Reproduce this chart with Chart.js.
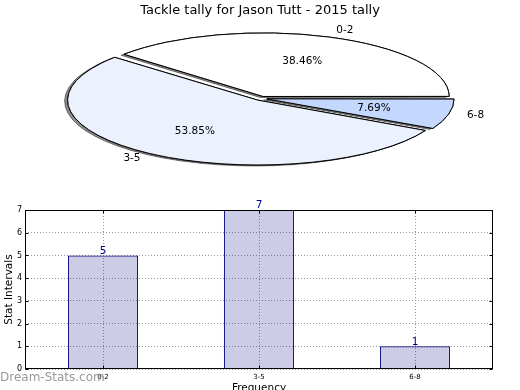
<!DOCTYPE html>
<html><head><meta charset="utf-8">
<script src="https://cdn.jsdelivr.net/npm/chart.js@4/dist/chart.umd.min.js"></script>
<style>
html,body{margin:0;padding:0;background:#fff;overflow:hidden;}
#wrap{position:relative;width:520px;height:390px;overflow:hidden;background:#fff;}
#pie{position:absolute;left:0;top:0;}
#bar{position:absolute;left:0;top:195px;}
#wm{position:absolute;left:0;top:371px;font:12px/12px "DejaVu Sans",sans-serif;color:#999;white-space:nowrap;}
</style></head><body>
<div id="wrap">
<canvas id="pie" width="520" height="200"></canvas>
<canvas id="bar" width="520" height="205"></canvas>
<div id="wm">Dream-Stats.com</div>
</div>
<script>
// ---- data ----
const chartTitle = 'Tackle tally for Jason Tutt - 2015 tally';
const categories = ['0-2', '3-5', '6-8'];
const tallies = [5, 7, 1];
const sliceColors = ['#ffffff', '#ebf1fd', '#c4d8fe'];
const yTickValues = [0, 1, 2, 3, 4, 5, 6, 7];
const xAxisTitle = 'Frequency';
const yAxisTitle = 'Stat Intervals';

// ---- layout constants ----
const FONT = '"DejaVu Sans", sans-serif';
const PIE_CX = 261, PIE_CY = 98.4, K = 0.3415;

// pie drawn in matplotlib order (counter-clockwise from east) => reverse for Chart.js clockwise
const pieLabels = categories.slice().reverse();
const pieValues = tallies.slice().reverse();
const pieColors = sliceColors.slice().reverse();

const ellipsePlugin = {
  id: 'ellipse',
  beforeDatasetsDraw(chart) {
    const ctx = chart.ctx;
    const meta = chart.getDatasetMeta(0);
    const el = meta.data[0];
    ctx.save();
    ctx.translate(PIE_CX, PIE_CY);
    ctx.scale(1, K);
    ctx.translate(-el.x, -el.y);
    const orig = CanvasRenderingContext2D.prototype.stroke;
    const dpr = chart.currentDevicePixelRatio || 1;
    ctx.stroke = function (...a) {
      this.save();
      this.setTransform(dpr, 0, 0, dpr, 0, 0);
      orig.apply(this, a);
      this.restore();
    };
    // shadow pass: drawn beneath all wedges
    ctx.save();
    ctx.shadowColor = 'rgba(0,0,0,0.45)';
    ctx.shadowOffsetX = -3;
    ctx.shadowOffsetY = 1;
    ctx.shadowBlur = 0;
    meta.data.forEach(a => a.draw(ctx));
    ctx.restore();
  },
  afterDatasetsDraw(chart) {
    const ctx = chart.ctx;
    delete ctx.stroke;
    ctx.restore();
    const meta = chart.getDatasetMeta(0);
    const data = chart.data.datasets[0].data;
    const total = data.reduce((s, v) => s + v, 0);
    ctx.save();
    ctx.fillStyle = '#000';
    ctx.font = '10.5px ' + FONT;
    ctx.textBaseline = 'middle';
    meta.data.forEach((a, i) => {
      const mid = (a.startAngle + a.endAngle) / 2;
      const off = (a.options.offset || 0) / 4;
      const r = a.outerRadius;
      const bx = Math.cos(mid) * off, by = Math.sin(mid) * off;
      const map = (f) => [PIE_CX + bx + f * r * Math.cos(mid), PIE_CY + (by + f * r * Math.sin(mid)) * K];
      const [lx, ly] = map(1.12);
      ctx.textAlign = Math.cos(mid) > 0 ? 'left' : 'right';
      ctx.fillText(chart.data.labels[i], lx, ly);
      const [px, py] = map(0.6);
      ctx.textAlign = 'center';
      ctx.fillText((data[i] / total * 100).toFixed(2) + '%', px, py);
    });
    ctx.restore();
  }
};

new Chart(document.getElementById('pie'), {
  type: 'pie',
  data: {
    labels: pieLabels,
    datasets: [{
      data: pieValues,
      backgroundColor: pieColors,
      borderColor: '#000',
      borderWidth: 1,
      offset: 24,
      hoverOffset: 0,
      clip: false
    }]
  },
  options: {
    responsive: false,
    animation: false,
    rotation: 90,
    radius: 184,
    events: [],
    plugins: {
      legend: { display: false },
      tooltip: { enabled: false },
      title: {
        display: true, text: chartTitle, color: '#000',
        font: { family: FONT, size: 13, weight: 'normal' },
        padding: { top: 3, bottom: 4 }
      }
    }
  },
  plugins: [ellipsePlugin]
});

const barPlugin = {
  id: 'barDecor',
  afterDatasetsDraw(chart) {
    const ctx = chart.ctx, a = chart.chartArea;
    ctx.save();
    ctx.strokeStyle = '#000';
    ctx.lineWidth = 1;
    const L = Math.round(a.left) + 0.5, T = Math.round(a.top) + 0.5;
    const R = Math.round(a.right) - 0.5, B = Math.round(a.bottom) - 0.5;
    ctx.strokeRect(L, T, R - L, B - T);
    // inward tick marks on all four sides
    const TL = 3;
    ctx.beginPath();
    const ys = chart.scales.y, xs = chart.scales.x;
    ys.ticks.forEach((t, i) => {
      const y = Math.round(ys.getPixelForTick(i)) + 0.5;
      ctx.moveTo(L, y); ctx.lineTo(L + TL, y);
      ctx.moveTo(R, y); ctx.lineTo(R - TL, y);
    });
    xs.ticks.forEach((t, i) => {
      const x = Math.round(xs.getPixelForTick(i)) + 0.5;
      ctx.moveTo(x, B); ctx.lineTo(x, B - TL);
      ctx.moveTo(x, T); ctx.lineTo(x, T + TL);
    });
    ctx.stroke();
    const meta = chart.getDatasetMeta(0);
    const data = chart.data.datasets[0].data;
    ctx.fillStyle = '#00008b';
    ctx.font = '10.5px ' + FONT;
    ctx.textAlign = 'center';
    ctx.textBaseline = 'bottom';
    meta.data.forEach((b, i) => ctx.fillText(String(data[i]), b.x, b.y + 1));
    ctx.restore();
  }
};

new Chart(document.getElementById('bar'), {
  type: 'bar',
  data: {
    labels: categories,
    datasets: [{
      data: tallies,
      backgroundColor: 'rgba(0,0,128,0.2)',
      borderColor: '#000080',
      borderWidth: 1,
      barPercentage: 0.45,
      categoryPercentage: 1
    }]
  },
  options: {
    responsive: false,
    animation: false,
    events: [],
    layout: { padding: { left: 0, right: 27, top: 15, bottom: 0 } },
    plugins: { legend: { display: false }, tooltip: { enabled: false } },
    scales: {
      x: {
        grid: { offset: false, color: '#999', drawTicks: false },
        border: { display: false, dash: [1, 2] },
        ticks: { color: '#000', font: { family: FONT, size: 7 }, padding: 4, maxRotation: 0 },
        title: { display: true, text: xAxisTitle, color: '#000', font: { family: FONT, size: 10.5 }, padding: { top: 0, bottom: 5 } },
        afterFit(s) { s.height = 31; }
      },
      y: {
        min: yTickValues[0],
        max: yTickValues[yTickValues.length - 1],
        grid: { color: '#999', drawTicks: false },
        border: { display: false, dash: [1, 2] },
        ticks: { stepSize: 1, color: '#000', font: { family: FONT, size: 8 }, padding: 3 },
        title: { display: true, text: yAxisTitle, color: '#000', font: { family: FONT, size: 10.5 }, padding: { top: 3, bottom: 0 } },
        afterFit(s) { s.width = 25; }
      }
    }
  },
  plugins: [barPlugin]
});
</script>
</body></html>
